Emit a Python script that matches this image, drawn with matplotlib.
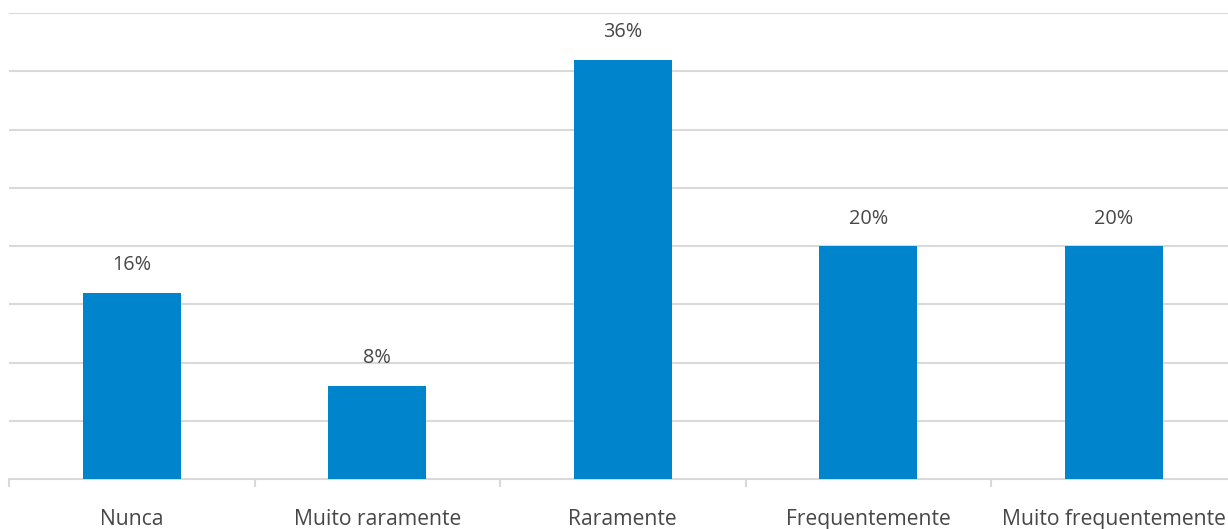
import matplotlib.pyplot as plt
import numpy as np

# Data
categories = ['Nunca', 'Muito raramente', 'Raramente', 'Frequentemente', 'Muito frequentemente']
values = [16, 8, 36, 20, 20]

bar_color = '#0085CC'
text_color = '#474747'
grid_color = '#D9D9D9'

plt.rcParams['font.family'] = ['Open Sans', 'DejaVu Sans']

fig = plt.figure(figsize=(12.28, 5.29), dpi=100)
ax = fig.add_axes([9 / 1228, 1 - 479 / 529, 1227.5 / 1228, (479 - 13) / 529])

x = np.arange(len(categories))
ax.bar(x, values, width=0.4, color=bar_color, zorder=3)

for xi, v in zip(x, values):
    ax.text(xi, v + 1.5, f'{v}%', ha='center', va='bottom', fontsize=14.3,
            color=text_color)

ax.set_xlim(-0.5, len(categories) - 0.5)
ax.set_ylim(0, 40)
ax.set_yticks(np.arange(5, 41, 5))
ax.yaxis.grid(True, color=grid_color, linewidth=1.5, zorder=0)
ax.tick_params(axis='y', left=False, labelleft=False)

# category labels centered, tick marks at the boundaries
ax.set_xticks(x)
ax.set_xticklabels(categories, fontsize=15.2, color=text_color)
ax.tick_params(axis='x', length=0, pad=21.5)
ax.set_xticks(np.arange(-0.5, len(categories), 1), minor=True)
ax.tick_params(axis='x', which='minor', length=6, width=1.5, color=grid_color)

for side in ['top', 'right', 'left']:
    ax.spines[side].set_visible(False)
ax.spines['bottom'].set_color(grid_color)
ax.spines['bottom'].set_linewidth(1.5)

fig.savefig('out.png', dpi=100)
